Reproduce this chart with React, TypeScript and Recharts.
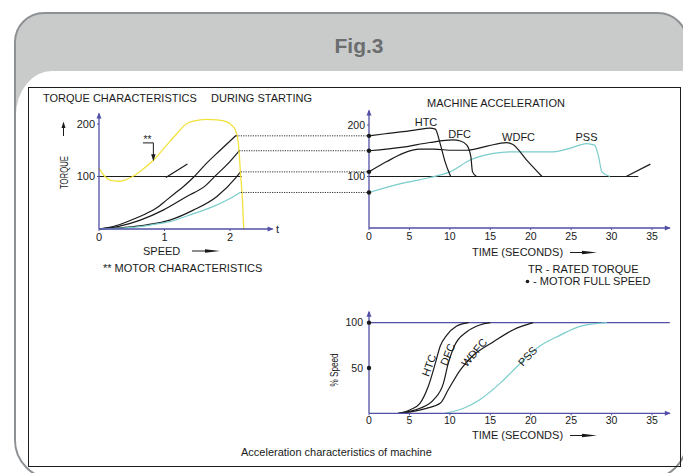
import React from 'react';
import { LineChart, Line, XAxis, YAxis, ReferenceLine, ReferenceDot } from 'recharts';

const FONT = '"Liberation Sans", Arial, Helvetica, sans-serif';
const AXIS_BLUE = '#524fa6';
const CYAN = '#7acccc';
const YELLOW = '#f3e23c';
const INK = '#1a1a1a';

// torque characteristics during starting (speed vs % torque)
const motorSpeed = [0, 0.09, 0.2, 0.32, 0.5, 0.65, 0.83, 1.0, 1.19, 1.34, 1.5, 1.64, 1.8, 1.95, 2.03, 2.08, 2.13, 2.16, 2.19, 2.21];
const motorTorque = [116, 100, 92, 91, 99, 112, 131, 155, 182, 201, 207, 209, 208, 204, 197, 189, 160, 106, 55, 0];
const loadASpeed = [0, 0.2, 0.37, 0.55, 0.73, 0.9, 1.03, 1.16, 1.29, 1.44, 1.64, 1.85, 2.09];
const loadATorque = [0, 4, 11, 20, 30, 42, 55, 68, 81, 98, 125, 150, 178];
const loadBSpeed = [0, 0.3, 0.63, 0.98, 1.34, 1.64, 1.75, 1.95, 2.14];
const loadBTorque = [0, 5, 17, 36, 62, 84, 98, 122, 149];
const loadCSpeed = [0, 0.4, 0.73, 1.08, 1.44, 1.8, 2.09, 2.16];
const loadCTorque = [0, 3, 8, 17, 36, 62, 98, 109];
const pssSpeed = [0, 0.5, 0.8, 1.08, 1.39, 1.75, 2.0, 2.16];
const pssTorque = [0, 3, 8, 14, 27, 43, 58, 70];
const ratedSpeed = [0, 2.18];
const ratedTorque = [100, 100];
const stubSpeed = [1.02, 1.35];
const stubTorque = [98, 124];

// machine acceleration (time vs torque)
const htcTime = [0, 2, 4.2, 6, 7.5, 8.2, 8.8, 9.4, 10.1];
const htcTorque = [179, 183, 187, 191, 194, 192, 164, 129, 100];
const dfcTime = [0, 4.2, 7.5, 10.4, 11.3, 12.1, 12.6, 12.8, 13.3];
const dfcTorque = [150, 157, 166, 171, 169, 161, 138, 109, 100];
const wdfcTime = [0, 2.2, 4.2, 6.3, 8, 10.4, 12.1, 14.6, 17, 17.8, 19.5, 21.4];
const wdfcTorque = [109, 129, 145, 153, 153, 151, 151, 159, 166, 162, 132, 100];
const pssTime = [0, 4.2, 7.5, 10, 12.5, 15.4, 17.8, 22.8, 24.9, 26.9, 27.9, 28.4, 28.8, 29.8];
const pssAccTorque = [69, 87, 98, 109, 132, 145, 148, 148, 155, 164, 161, 138, 109, 100];
const trTime = [0, 33.3];
const trTorque = [100, 100];
const tailTime = [31.8, 34.8];
const tailTorque = [100, 124];
const fullSpeedTorque = [179, 150, 109, 69];
const linkStartTime = [-16.45, -16.05, -15.85, -15.85];

// acceleration characteristics (time vs % speed)
const htcSpdTime = [3.6, 5.1, 6.3, 7.3, 8.2, 8.8, 9.6, 10.8, 12.3];
const htcSpd = [0, 4, 11, 29, 55, 74, 86, 96, 100];
const dfcSpdTime = [3.6, 6.3, 8.0, 9.2, 9.8, 10.6, 12.1, 13.7, 15.0];
const dfcSpd = [0, 5.5, 15, 33, 55, 75, 90, 97.5, 100];
const wdfcSpdTime = [4.0, 7.1, 8.8, 9.8, 11.3, 12.9, 15.4, 17.8, 20.3];
const wdfcSpd = [0, 5.5, 11, 26, 48, 64, 79, 92, 100];
const pssSpdTime = [9.4, 11.7, 13.7, 16.2, 18.7, 21.1, 23.6, 26.1, 29.4];
const pssSpd = [0, 5.5, 15, 33, 55, 74, 86, 96, 100];

const timeTicks = [0, 5, 10, 15, 20, 25, 30, 35];

const pt = (xs: number[], ys: number[]) => xs.map((x, i) => ({ x, y: ys[i] }));

const upHead = (p: any) => (
  <path d={`M${p.cx},${p.cy - 1} L${p.cx - 2.5},${p.cy + 5} L${p.cx + 2.5},${p.cy + 5} Z`} fill={AXIS_BLUE} />
);
const rightHead = (p: any) => (
  <path d={`M${p.cx + 1},${p.cy} L${p.cx - 5},${p.cy - 2.5} L${p.cx - 5},${p.cy + 2.5} Z`} fill={AXIS_BLUE} />
);
const downHead = (p: any) => (
  <path d={`M${p.cx},${p.cy + 1} L${p.cx - 2.2},${p.cy - 6} L${p.cx + 2.2},${p.cy - 6} Z`} fill={INK} />
);
const tag = (text: string, rotate = 0, size = 11) => (p: any) => (
  <text
    x={p.cx}
    y={p.cy}
    textAnchor="middle"
    dominantBaseline="central"
    fontSize={size}
    fontFamily={FONT}
    fill={INK}
    transform={rotate ? `rotate(${rotate} ${p.cx} ${p.cy})` : undefined}
  >
    {text}
  </text>
);

const tickStyle = (size: number) => ({ fontSize: size, fill: INK, fontFamily: FONT });
const axisLine = { stroke: AXIS_BLUE, strokeWidth: 1.3 };

const curve = (data: { x: number; y: number }[], color: string, width = 1.2) => (
  <Line
    data={data}
    dataKey="y"
    type="monotone"
    stroke={color}
    strokeWidth={width}
    dot={false}
    activeDot={false}
    isAnimationActive={false}
  />
);

const W = 683;
const H = 473;
const YW = 40; // y-axis band
const XH = 24; // x-axis band
const layer: React.CSSProperties = { position: 'absolute', left: 0, top: 0 };

function TorqueChart() {
  return (
    <div style={layer}>
      <LineChart width={W} height={H} margin={{ left: 99 - YW, right: 410.4, top: 113.5, bottom: 244 - XH }}>
        <XAxis
          type="number"
          dataKey="x"
          domain={[0, 2.65]}
          ticks={[0, 1, 2]}
          interval={0}
          height={XH}
          stroke={AXIS_BLUE}
          axisLine={axisLine}
          tickSize={2}
          tick={tickStyle(11)}
        />
        <YAxis
          type="number"
          domain={[0, 220]}
          ticks={[100, 200]}
          interval={0}
          width={YW}
          stroke={AXIS_BLUE}
          axisLine={axisLine}
          tickSize={2}
          tick={tickStyle(11)}
        />
        {curve(pt(ratedSpeed, ratedTorque), INK)}
        {curve(pt(stubSpeed, stubTorque), INK)}
        {curve(pt(loadASpeed, loadATorque), INK)}
        {curve(pt(loadBSpeed, loadBTorque), INK)}
        {curve(pt(loadCSpeed, loadCTorque), INK)}
        {curve(pt(pssSpeed, pssTorque), CYAN)}
        {curve(pt(motorSpeed, motorTorque), YELLOW, 1.3)}
        <ReferenceLine segment={[{ x: 0.67, y: 164 }, { x: 0.83, y: 164 }]} stroke={INK} ifOverflow="visible" />
        <ReferenceLine segment={[{ x: 0.83, y: 164 }, { x: 0.83, y: 137 }]} stroke={INK} ifOverflow="visible" />
        <ReferenceDot x={0.83} y={131} ifOverflow="visible" shape={downHead} />
        <ReferenceDot x={0.74} y={171} ifOverflow="visible" shape={tag('**', 0, 10)} />
        <ReferenceDot x={0} y={220} ifOverflow="visible" shape={upHead} />
        <ReferenceDot x={2.65} y={0} ifOverflow="visible" shape={rightHead} />
      </LineChart>
    </div>
  );
}

function AccelerationChart() {
  return (
    <div style={layer}>
      <LineChart width={W} height={H} margin={{ left: 369 - YW, right: 13.2, top: 110.6, bottom: 245 - XH }}>
        <XAxis
          type="number"
          dataKey="x"
          domain={[0, 37.2]}
          ticks={timeTicks}
          interval={0}
          height={XH}
          stroke={AXIS_BLUE}
          axisLine={axisLine}
          tickSize={2}
          tickMargin={3}
          tick={tickStyle(10.5)}
        />
        <YAxis
          type="number"
          domain={[0, 228]}
          ticks={[100, 200]}
          interval={0}
          width={YW}
          stroke={AXIS_BLUE}
          axisLine={axisLine}
          tickSize={2}
          tick={tickStyle(10.5)}
        />
        {fullSpeedTorque.map((v, i) => (
          <ReferenceLine
            key={'link' + i}
            segment={[{ x: linkStartTime[i], y: v }, { x: 0, y: v }]}
            stroke="#333"
            strokeDasharray="1.2 1.2"
            ifOverflow="visible"
          />
        ))}
        {curve(pt(trTime, trTorque), INK)}
        {curve(pt(tailTime, tailTorque), INK)}
        {curve(pt(pssTime, pssAccTorque), CYAN)}
        {curve(pt(wdfcTime, wdfcTorque), INK)}
        {curve(pt(dfcTime, dfcTorque), INK)}
        {curve(pt(htcTime, htcTorque), INK)}
        {fullSpeedTorque.map((v, i) => (
          <ReferenceDot key={'dot' + i} x={0} y={v} r={2.2} fill={INK} stroke="none" ifOverflow="visible" />
        ))}
        <ReferenceDot x={7.05} y={206} shape={tag('HTC')} />
        <ReferenceDot x={11.2} y={182} shape={tag('DFC')} />
        <ReferenceDot x={18.5} y={177} shape={tag('WDFC')} />
        <ReferenceDot x={26.9} y={177} shape={tag('PSS')} />
        <ReferenceDot x={0} y={228} ifOverflow="visible" shape={upHead} />
        <ReferenceDot x={37.2} y={0} ifOverflow="visible" shape={rightHead} />
      </LineChart>
    </div>
  );
}

function SpeedChart() {
  return (
    <div style={layer}>
      <LineChart width={W} height={H} margin={{ left: 369 - YW, right: 13.2, top: 311.8, bottom: 59.7 - XH }}>
        <XAxis
          type="number"
          dataKey="x"
          domain={[0, 37.2]}
          ticks={timeTicks}
          interval={0}
          height={XH}
          stroke={AXIS_BLUE}
          axisLine={axisLine}
          tickSize={2}
          tickMargin={1}
          tick={tickStyle(10.5)}
        />
        <YAxis
          type="number"
          domain={[0, 112]}
          ticks={[50, 100]}
          interval={0}
          width={YW}
          stroke={AXIS_BLUE}
          axisLine={axisLine}
          tickSize={0}
          tickMargin={6}
          tick={tickStyle(10.5)}
        />
        <ReferenceLine y={100} stroke={AXIS_BLUE} strokeWidth={1.3} />
        {curve(pt(htcSpdTime, htcSpd), INK)}
        {curve(pt(dfcSpdTime, dfcSpd), INK)}
        {curve(pt(wdfcSpdTime, wdfcSpd), INK)}
        {curve(pt(pssSpdTime, pssSpd), CYAN)}
        <ReferenceDot x={0} y={100} r={2.2} fill={INK} stroke="none" ifOverflow="visible" />
        <ReferenceDot x={0} y={50} r={2.2} fill={INK} stroke="none" ifOverflow="visible" />
        <ReferenceDot x={7.4} y={53} shape={tag('HTC', -70)} />
        <ReferenceDot x={9.7} y={65} shape={tag('DFC', -68)} />
        <ReferenceDot x={13.0} y={67} shape={tag('WDFC', -50)} />
        <ReferenceDot x={19.6} y={63} shape={tag('PSS', -48)} />
        <ReferenceDot x={0} y={112} ifOverflow="visible" shape={upHead} />
        <ReferenceDot x={37.2} y={0} ifOverflow="visible" shape={rightHead} />
      </LineChart>
    </div>
  );
}

const Label = ({ x, y, children, size = 11, rotate = 0, anchor = 'start', bold = false, color = INK, fit }: any) => (
  <text
    x={x}
    y={y}
    fontSize={size}
    fontFamily={FONT}
    fontWeight={bold ? 700 : 400}
    fill={color}
    textAnchor={anchor}
    dominantBaseline="central"
    textLength={fit}
    lengthAdjust={fit ? 'spacingAndGlyphs' : undefined}
    transform={rotate ? `rotate(${rotate} ${x} ${y})` : undefined}
  >
    {children}
  </text>
);

const Pointer = ({ x1, x2, y }: { x1: number; x2: number; y: number }) => (
  <g>
    <line x1={x1} y1={y} x2={x2 - 10} y2={y} stroke={INK} strokeWidth={1} />
    <path d={`M${x2 - 15},${y - 1.8} L${x2},${y} L${x2 - 15},${y + 1.8} Z`} fill={INK} />
  </g>
);

function Texts() {
  return (
    <svg width={W} height={H} style={layer}>
      <Label x={359} y={45} size={21} bold anchor="middle" color="#6b6d6f">Fig.3</Label>
      <Label x={43} y={97.5}>TORQUE CHARACTERISTICS</Label>
      <Label x={211} y={97.5}>DURING STARTING</Label>
      <Label x={63.5} y={172.5} size={10.5} rotate={-90} anchor="middle" fit={33}>TORQUE</Label>
      <line x1={63.5} y1={136} x2={63.5} y2={126} stroke={INK} strokeWidth={1} />
      <path d="M63.5,121.5 L61.5,128 L65.5,128 Z" fill={INK} />
      <Label x={276} y={229}>t</Label>
      <Label x={143} y={251}>SPEED</Label>
      <Pointer x1={192} x2={220} y={251} />
      <Label x={103} y={268}>** MOTOR CHARACTERISTICS</Label>
      <Label x={427} y={103}>MACHINE ACCELERATION</Label>
      <Label x={472} y={252}>TIME (SECONDS)</Label>
      <Pointer x1={570} x2={597} y={252.5} />
      <Label x={528} y={269}>TR - RATED TORQUE</Label>
      <circle cx={527.5} cy={281.5} r={1.8} fill={INK} />
      <Label x={533} y={281}>- MOTOR FULL SPEED</Label>
      <Label x={333.5} y={370} size={10.5} rotate={-90} anchor="middle" fit={33}>% Speed</Label>
      <Label x={472} y={435}>TIME (SECONDS)</Label>
      <Pointer x1={570} x2={597} y={435.5} />
      <Label x={241} y={452}>Acceleration characteristics of machine</Label>
    </svg>
  );
}

function Frame() {
  return (
    <>
      <div
        style={{
          position: 'absolute',
          left: 14,
          top: 12,
          width: 674,
          height: 468,
          boxSizing: 'border-box',
          border: '2.5px solid #8e9194',
          borderRadius: '30px 30px 40px 40px',
          background: '#c9cbcb',
          overflow: 'hidden',
        }}
      >
        <div
          style={{
            position: 'absolute',
            left: 0,
            right: 0,
            top: 56.5,
            bottom: 0,
            background: '#ffffff',
            borderTopLeftRadius: '36px 44px',
          }}
        />
      </div>
      <div
        style={{
          position: 'absolute',
          left: 28,
          top: 86.5,
          width: 653,
          height: 380,
          boxSizing: 'border-box',
          border: '1.4px solid #1c1c1c',
        }}
      />
    </>
  );
}

export default function App() {
  return (
    <div style={{ position: 'absolute', left: 0, top: 0, width: W, height: H, overflow: 'hidden', background: '#fff' }}>
      <Frame />
      <TorqueChart />
      <AccelerationChart />
      <SpeedChart />
      <Texts />
    </div>
  );
}
